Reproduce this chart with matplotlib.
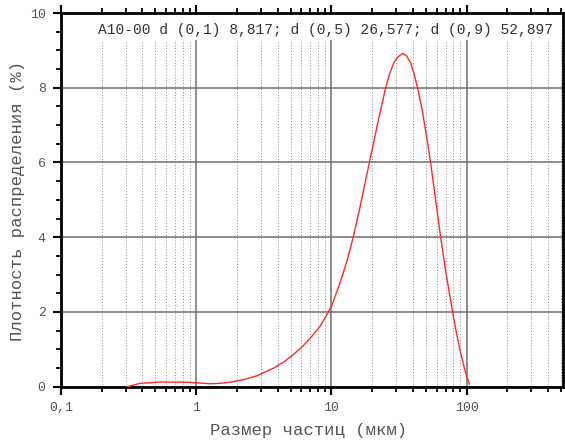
import matplotlib
matplotlib.use("Agg")
import matplotlib.pyplot as plt
from matplotlib.ticker import FixedLocator, NullFormatter, MultipleLocator

# Data
size_um = [0.31, 0.384, 0.54, 0.85, 1.26, 1.5, 1.87, 2.3, 2.8, 3.7, 4.4, 5.2,
           6.2, 7.3, 8.2, 9.0, 9.5, 10.0, 11.0, 12.0, 13.0, 14.5, 16.5, 19.1,
           21.0, 22.0, 25.2, 27.0, 29.0, 31.0, 33.6, 36.0, 38.5, 41.0, 43.4,
           47.0, 50.0, 54.2, 59.0, 64.3, 70.0, 78.8, 84.0, 89.3, 97.0, 104.8]
density = [0.0, 0.09, 0.125, 0.12, 0.08, 0.09, 0.13, 0.2, 0.29, 0.49, 0.65, 0.85,
           1.1, 1.38, 1.6, 1.85, 2.0, 2.15, 2.55, 2.95, 3.35, 4.0, 4.9, 6.0,
           6.7, 7.05, 8.0, 8.38, 8.67, 8.82, 8.92, 8.85, 8.67, 8.35, 8.0,
           7.4, 6.8, 6.0, 5.0, 4.0, 3.1, 2.0, 1.45, 0.98, 0.45, 0.07]

x_major = [0.1, 1, 10, 100]
x_major_labels = ["0,1", "1", "10", "100"]
y_major = [0, 2, 4, 6, 8, 10]
annotation = "A10-00 d (0,1) 8,817; d (0,5) 26,577; d (0,9) 52,897"
xlabel = "Размер частиц (мкм)"
ylabel = "Плотность распределения (%)"

W, H = 565, 441
fig = plt.figure(figsize=(W / 100, H / 100), dpi=100)
left, right, top, bottom = 61, 562.7, 13, 386.7
ax = fig.add_axes([left / W, 1 - bottom / H, (right - left) / W, (bottom - top) / H])

mono = "Liberation Mono"
txtcol = "#555555"

ax.plot(size_um, density, color="#ff2a2a", lw=1.0, zorder=3)

ax.set_xscale("log")
ax.set_xlim(0.1, 514)
ax.set_ylim(0, 10)

minor_x = [m * 10.0 ** e for e in range(-1, 3) for m in range(2, 10)]
minor_x = [v for v in minor_x if v < 514]
ax.xaxis.set_major_locator(FixedLocator(x_major))
ax.set_xticklabels(x_major_labels)
ax.xaxis.set_minor_locator(FixedLocator(minor_x))
ax.xaxis.set_minor_formatter(NullFormatter())
ax.yaxis.set_major_locator(FixedLocator(y_major))
ax.yaxis.set_minor_locator(MultipleLocator(0.5))

ax.set_axisbelow(True)
ax.grid(which="major", axis="both", color="#6e6e6e", lw=1.1, ls="-")
ax.grid(which="minor", axis="x", color="#8a8a8a", lw=0.7, ls=(0, (1, 2)))

# white band behind annotation
ax.axhspan(9.28, 10, color="white", zorder=1, lw=0)

for s in ax.spines.values():
    s.set_linewidth(2.0)
    s.set_color("black")

ax.tick_params(which="both", direction="out", top=True, right=True, color="black")
ax.tick_params(which="major", length=6, width=1.5, labelsize=9.5, labelcolor=txtcol, pad=5)
ax.tick_params(which="minor", length=3.5, width=1.3)
for lab in ax.get_xticklabels() + ax.get_yticklabels():
    lab.set_fontfamily(mono)

ax.text((98 - left) / (right - left), 1 - (30 - top) / (bottom - top), annotation,
        transform=ax.transAxes, ha="left", va="center", fontsize=10.45,
        family=mono, color="#333333", zorder=4)

fig.text(309 / W, 1 - 430 / H, xlabel, ha="center", va="center",
         fontsize=12.4, family=mono, color=txtcol)
fig.text(18 / W, 1 - 201 / H, ylabel, ha="center", va="center", rotation=90,
         fontsize=12.4, family=mono, color=txtcol)

fig.savefig("out.png", dpi=100)
